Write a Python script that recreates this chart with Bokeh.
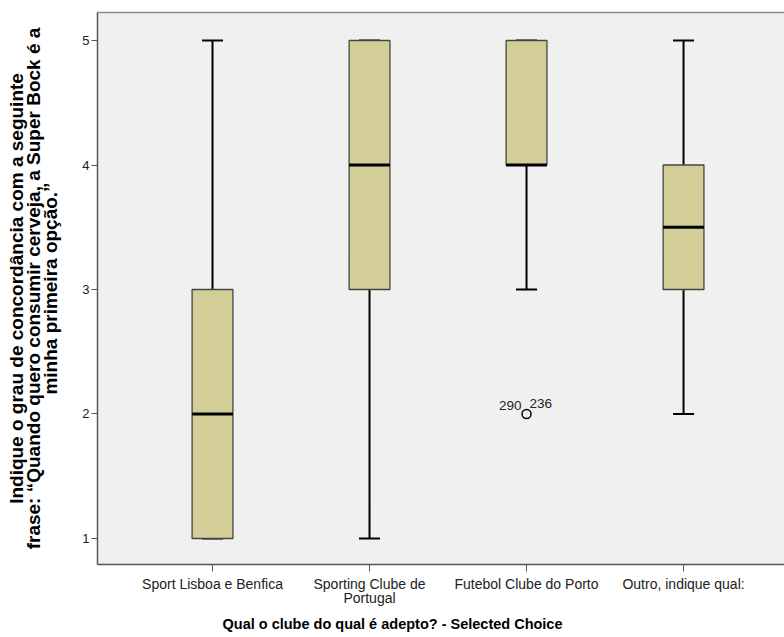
from bokeh.plotting import figure
from bokeh.models import Range1d, FixedTicker, LinearAxis, Title
from bokeh.core.properties import value
from bokeh.embed import file_html
from bokeh.resources import INLINE

# ---- data ----
categories = ["Sport Lisboa e Benfica", "Sporting Clube de\nPortugal",
              "Futebol Clube do Porto", "Outro, indique qual:"]
positions = [1, 2, 3, 4]
lower_whisker = [1, 1, 3, 2]
q1 = [1, 3, 4, 3]
medians = [2, 4, 4, 3.5]
q3 = [3, 5, 5, 4]
upper_whisker = [5, 5, 5, 5]
outlier_pos = [3]
outlier_val = [2]
outlier_ids_left = ["290"]
outlier_ids_right = ["236"]
y_ticks = [1, 2, 3, 4, 5]

y_title = ("Indique o grau de concordância com a seguinte\n"
           "frase: \u201cQuando quero consumir cerveja, a Super Bock é a\n"
           "minha primeira opção.\u201d")
x_title = "Qual o clube do qual é adepto? - Selected Choice"

FONT = "Liberation Sans"
BOX_W = 0.26
CAP_HALF = 0.067

p = figure(width=784, height=637,
           x_range=Range1d(0.2675, 4.643), y_range=Range1d(0.791, 5.225),
           output_backend="svg", toolbar_location=None,
           min_border_left=97, min_border_right=0, min_border_top=12,
           min_border_bottom=73)
p.background_fill_color = "#F0F0F0"
p.border_fill_color = "white"
p.outline_line_color = None
p.xgrid.visible = False
p.ygrid.visible = False

# y axis
p.yaxis.ticker = FixedTicker(ticks=y_ticks)
p.yaxis.minor_tick_line_color = None
p.yaxis.major_tick_in = 0
p.yaxis.major_tick_out = 6
p.yaxis.axis_line_color = "#555555"
p.yaxis.axis_line_width = 1.5
p.yaxis.major_tick_line_color = "#555555"
p.yaxis.major_label_text_font = FONT
p.yaxis.major_label_text_font_size = "13px"
p.yaxis.major_label_text_color = "#222222"
p.yaxis.major_label_standoff = 2
p.yaxis.axis_label = y_title
p.yaxis.axis_label_text_font = FONT
p.yaxis.axis_label_text_font_style = "bold"
p.yaxis.axis_label_text_font_size = "19px"
p.yaxis.axis_label_text_line_height = 0.82
p.yaxis.axis_label_text_color = "black"
p.yaxis.axis_label_standoff = 18

# x axis
p.xaxis.ticker = FixedTicker(ticks=positions)
p.xaxis.major_label_overrides = {pos: lab for pos, lab in zip(positions, categories)}
p.xaxis.minor_tick_line_color = None
p.xaxis.major_tick_in = 0
p.xaxis.major_tick_out = 7
p.xaxis.axis_line_color = "#555555"
p.xaxis.axis_line_width = 1.5
p.xaxis.major_tick_line_color = "#555555"
p.xaxis.major_label_text_font = FONT
p.xaxis.major_label_text_font_size = "14px"
p.xaxis.major_label_text_color = "#222222"
p.xaxis.major_label_text_line_height = 0.92
p.xaxis.major_label_standoff = 4

# top frame line
top = LinearAxis(ticker=FixedTicker(ticks=[]), major_tick_out=0, major_tick_in=0,
                 minor_tick_out=0, minor_tick_in=0, major_label_text_font_size="0px",
                 axis_line_color="#8c8c8c", axis_line_width=1.5, major_label_standoff=0)
p.add_layout(top, "above")

# x title
p.add_layout(Title(text=x_title, align="left", offset=125, standoff=9,
                   text_font=FONT, text_font_style="bold", text_font_size="14.5px",
                   text_color="black"), "below")

# whiskers
p.segment(x0=positions, y0=q3, x1=positions, y1=upper_whisker, line_color="black", line_width=2)
p.segment(x0=positions, y0=lower_whisker, x1=positions, y1=q1, line_color="black", line_width=2)
cap_l = [x - CAP_HALF for x in positions]
cap_r = [x + CAP_HALF for x in positions]
p.segment(x0=cap_l, y0=upper_whisker, x1=cap_r, y1=upper_whisker, line_color="black", line_width=2)
p.segment(x0=cap_l, y0=lower_whisker, x1=cap_r, y1=lower_whisker, line_color="black", line_width=2)

# boxes
p.vbar(x=positions, bottom=q1, top=q3, width=BOX_W, fill_color="#D3CE97",
       line_color="#444444", line_width=1.3)
# medians
med_l = [x - BOX_W / 2 for x in positions]
med_r = [x + BOX_W / 2 for x in positions]
p.segment(x0=med_l, y0=medians, x1=med_r, y1=medians, line_color="black", line_width=3)

# outlier
p.scatter(x=outlier_pos, y=outlier_val, marker="circle", size=9, fill_color=None,
          line_color="black", line_width=1.5)
p.text(x=outlier_pos, y=outlier_val, text=outlier_ids_left, text_align="right",
       text_baseline="alphabetic", x_offset=-5, y_offset=-8,
       text_font=value(FONT), text_font_size="13.5px", text_color="#222222")
p.text(x=outlier_pos, y=outlier_val, text=outlier_ids_right, text_align="left",
       text_baseline="alphabetic", x_offset=3, y_offset=-10,
       text_font=value(FONT), text_font_size="13.5px", text_color="#222222")

open("out.html", "w").write(file_html(p, INLINE))
